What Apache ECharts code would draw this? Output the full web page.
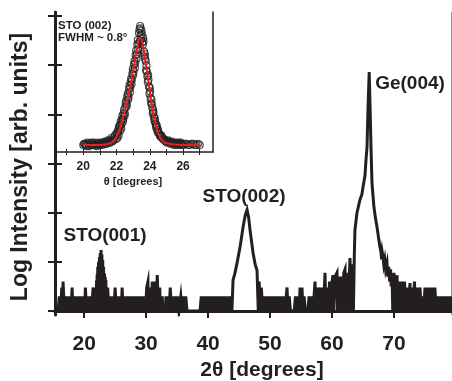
<!DOCTYPE html>
<html>
  <head>
    <title>xrd scan</title>
    <meta http-equiv="Content-Type" content="text/html; charset=utf-8" />
    <style type="text/css">
    	body{margin:0;background:#fff;}
    	#chart1{width:452px;height:381px;}
    </style>
	<script type="text/javascript" src="https://cdn.jsdelivr.net/npm/echarts@6.0.0/dist/echarts.min.js"></script>
  </head>
  <body>
	<div id="chart1"></div>
  </body>
  <script type="text/javascript">
	// main scan, [2theta, log10(counts)]
	var scanA = [[15.8,0],[16.0,0.3],[16.2,0],[16.4,0.48],[16.5,0],[16.6,0.6],[16.8,0],[17.0,0.3],[17.2,0],[17.4,0.3],[17.6,0],[17.8,0.3],[17.9,0],[18.06,0.48],[18.2,0],[18.4,0.3],[18.6,0],[18.8,0.3],[19.0,0],[19.2,0.3],[19.4,0],[19.6,0.3],[19.8,0],[20.0,0.3],[20.1,0],[20.2,0.48],[20.4,0],[20.6,0.3],[20.8,0],[21.0,0.3],[21.2,0],[21.45,0.48],[21.6,0],[21.8,0.48],[21.88,0.49],[21.9,0],[22.0,0.62],[22.02,0],[22.1,0.75],[22.12,0],[22.2,0.9],[22.22,0],[22.33,1.0],[22.35,0],[22.47,1.1],[22.49,0],[22.6,1.18],[22.62,0],[22.74,1.24],[22.76,0],[22.87,1.15],[22.89,0],[23.0,1.04],[23.02,0],[23.14,0.9],[23.16,0],[23.28,0.77],[23.3,0],[23.4,0.7],[23.42,0],[23.5,0.63],[23.65,0],[23.8,0.48],[24.0,0],[24.2,0.3],[24.4,0],[24.6,0.3],[24.8,0],[25.0,0.48],[25.2,0],[25.4,0.3],[25.6,0],[25.8,0.3],[26.0,0],[26.13,0.48],[26.3,0],[26.5,0.3],[26.7,0],[26.9,0.3],[27.1,0],[27.3,0.3],[27.5,0],[27.7,0.3],[27.9,0],[28.1,0.3],[28.3,0],[28.5,0.3],[28.7,0],[28.9,0.3],[29.1,0],[29.3,0.3],[29.5,0],[29.7,0.3],[29.9,0],[30.1,0.48],[30.3,0.6],[30.4,0],[30.6,0.48],[30.8,0],[31.0,0.6],[31.2,0],[31.45,0.6],[31.6,0],[31.8,0.73],[32.0,0],[32.2,0.48],[32.3,0],[32.5,0],[32.6,0.3],[32.7,0],[33.1,0],[33.2,0.3],[33.3,0],[33.5,0.3],[33.7,0],[33.9,0.48],[34.1,0],[34.3,0.3],[34.5,0],[34.7,0.3],[34.9,0],[35.1,0.3],[35.3,0],[35.5,0],[35.6,0.3],[35.8,0],[36.0,0.3],[36.2,0],[36.4,0.3],[36.6,0],[38.7,0],[38.9,0.3],[39.1,0],[39.3,0.3],[39.5,0],[39.7,0.3],[39.9,0],[40.1,0.3],[40.3,0],[40.5,0.3],[40.7,0],[40.9,0.3],[41.1,0],[41.3,0.3],[41.5,0],[41.7,0.3],[41.9,0],[42.1,0.3],[42.3,0],[42.5,0.3],[42.7,0],[42.9,0.3],[43.1,0],[43.3,0.3],[43.5,0],[43.7,0.3],[43.85,0]];
	var sto002 = [[44.03,0.63],[44.3,0.75],[44.68,0.98],[45.16,1.3],[45.65,1.71],[46.0,1.95],[46.29,2.06],[46.55,1.9],[46.77,1.65],[47.26,1.18],[47.6,0.95],[47.9,0.83],[48.1,0],[48.25,0.6],[48.4,0],[48.6,0.48],[48.8,0],[49.0,0.3],[49.2,0]];
	var scanB = [[49.4,0.3],[49.6,0],[49.8,0.3],[50.0,0],[50.2,0.3],[50.4,0],[50.6,0.3],[50.8,0],[51.0,0.3],[51.2,0],[51.4,0.3],[51.6,0],[51.8,0.3],[52.0,0],[52.2,0.3],[52.4,0],[52.74,0.48],[52.9,0],[53.1,0.3],[53.3,0],[53.9,0],[54.1,0.3],[54.3,0],[54.5,0.3],[54.7,0],[54.84,0.48],[55.0,0],[55.16,0.48],[55.3,0],[55.5,0.3],[55.7,0],[56.1,0],[56.3,0.3],[56.5,0],[56.7,0.3],[56.9,0],[57.1,0.3],[57.26,0.6],[57.4,0],[57.6,0.48],[57.8,0],[58.06,0.48],[58.2,0],[58.4,0.48],[58.6,0],[58.87,0.78],[59.0,0],[59.2,0.48],[59.4,0],[59.6,0.6],[59.8,0],[60.0,0.6],[60.16,0.73],[60.3,0],[60.5,0.7],[60.8,0.78],[60.9,0],[61.1,0.7],[61.3,0],[61.5,0.7],[61.7,0],[61.9,0.78],[62.1,0.85],[62.2,0],[62.4,0.78],[62.6,0],[62.9,1.08],[63.1,0],[63.3,0.95],[63.45,0]];
	var ge004 = [[63.6,1.15],[63.7,1.65],[64.03,2.0],[64.5,2.26],[64.84,2.38],[65.0,2.52],[65.32,2.75],[65.48,3.07],[65.65,3.33],[65.8,4.08],[66.0,4.86],[66.15,4.1],[66.29,3.33],[66.45,2.6],[66.77,2.11],[67.0,1.9],[67.26,1.71],[67.5,1.5],[67.74,1.3],[67.9,1.2],[68.0,1.05],[68.1,1.2],[68.23,1.1],[68.35,0.95],[68.5,1.05],[68.65,0.85],[68.87,0.98],[69.0,0.7],[69.15,0.9],[69.3,0.6],[69.45,0.85],[69.55,0.5],[69.68,0.77]];
	var scanC = [[69.8,0],[70.0,0.78],[70.2,0],[70.5,0.73],[70.6,0],[70.8,0.6],[70.97,0.63],[71.1,0],[71.3,0.6],[71.5,0],[71.7,0.6],[71.9,0],[72.1,0.48],[72.3,0],[72.58,0.57],[72.7,0],[72.9,0.48],[73.1,0],[73.3,0.6],[73.5,0],[73.7,0.48],[73.9,0],[74.2,0.48],[74.4,0],[74.6,0.3],[74.8,0],[75.0,0.48],[75.2,0],[75.4,0.48],[75.6,0],[75.8,0.48],[76.0,0],[76.2,0.48],[76.4,0],[76.6,0.48],[76.8,0],[77.0,0.3],[77.2,0],[77.4,0.3],[77.6,0],[77.8,0.3],[78.0,0],[78.2,0.3],[78.4,0],[78.6,0.3],[78.8,0],[79.0,0.3],[79.2,0],[79.4,0.3]];
	var xTicks = [20,30,40,50,60,70];
	var yTicks = [0,1,2,3,4,5,6];

	// inset: rocking curve of STO(002), [theta, normalized intensity]
	var insetPts = [[20.0,0.06],[20.1,0.07],[20.2,0.05],[20.3,0.07],[20.4,0.06],[20.5,0.08],[20.6,0.06],[20.7,0.07],[20.8,0.05],[20.9,0.08],[21.0,0.06],[21.1,0.08],[21.2,0.07],[21.3,0.09],[21.4,0.07],[21.5,0.1],[21.6,0.08],[21.7,0.12],[21.8,0.1],[21.9,0.14],[22.0,0.16],[22.05,0.12],[22.1,0.19],[22.15,0.22],[22.2,0.18],[22.25,0.26],[22.3,0.24],[22.35,0.31],[22.4,0.28],[22.45,0.36],[22.5,0.33],[22.55,0.42],[22.6,0.39],[22.65,0.48],[22.7,0.45],[22.75,0.54],[22.8,0.51],[22.85,0.6],[22.9,0.58],[22.95,0.67],[23.0,0.66],[23.05,0.75],[23.1,0.72],[23.15,0.83],[23.2,0.8],[23.25,0.92],[23.3,0.88],[23.35,1.02],[23.4,0.95],[23.42,1.08],[23.45,1.0],[23.5,1.04],[23.55,0.94],[23.6,0.98],[23.65,0.86],[23.7,0.84],[23.75,0.78],[23.8,0.74],[23.85,0.65],[23.9,0.66],[23.95,0.56],[24.0,0.55],[24.05,0.46],[24.1,0.45],[24.15,0.38],[24.2,0.36],[24.25,0.3],[24.3,0.29],[24.35,0.24],[24.4,0.23],[24.45,0.19],[24.5,0.19],[24.6,0.15],[24.65,0.13],[24.7,0.14],[24.8,0.11],[24.9,0.1],[25.0,0.09],[25.1,0.1],[25.2,0.08],[25.3,0.09],[25.4,0.07],[25.5,0.08],[25.6,0.07],[25.7,0.08],[25.8,0.06],[25.9,0.07],[26.0,0.06],[26.2,0.07],[26.4,0.06],[26.6,0.07],[26.8,0.06],[27.0,0.06]];
	var insetPts2 = [[20.05,0.07],[20.15,0.06],[20.25,0.08],[20.35,0.05],[20.45,0.07],[20.55,0.06],[20.65,0.08],[20.75,0.06],[20.85,0.07],[20.95,0.06],[21.05,0.07],[21.15,0.06],[21.25,0.08],[21.35,0.07],[21.45,0.09],[21.55,0.08],[21.65,0.1],[21.75,0.09],[21.85,0.12],[21.95,0.11],[22.02,0.15],[22.08,0.17],[22.12,0.14],[22.18,0.21],[22.22,0.23],[22.28,0.2],[22.32,0.28],[22.38,0.26],[22.42,0.33],[22.48,0.31],[22.52,0.38],[22.58,0.44],[22.62,0.41],[22.68,0.5],[22.72,0.47],[22.78,0.57],[22.82,0.55],[22.88,0.63],[22.92,0.62],[22.98,0.71],[23.02,0.69],[23.08,0.78],[23.12,0.76],[23.18,0.87],[23.22,0.84],[23.28,0.96],[23.32,0.93],[23.38,1.05],[23.44,1.06],[23.48,0.97],[23.52,1.01],[23.58,0.92],[23.62,0.95],[23.68,0.82],[23.72,0.8],[23.78,0.7],[23.82,0.69],[23.88,0.6],[23.92,0.62],[23.98,0.5],[24.02,0.52],[24.08,0.42],[24.12,0.41],[24.18,0.33],[24.22,0.34],[24.28,0.27],[24.32,0.26],[24.38,0.21],[24.42,0.22],[24.48,0.17],[24.55,0.16],[24.62,0.14],[24.75,0.12],[24.85,0.11],[24.95,0.09],[25.05,0.08],[25.15,0.09],[25.25,0.07],[25.35,0.08],[25.45,0.06],[25.55,0.07],[25.65,0.06],[25.75,0.07],[25.85,0.08],[25.95,0.06],[26.1,0.07],[26.3,0.06],[26.5,0.07],[26.7,0.06],[26.9,0.07]];
	var insetFit = [[20.0,0.06],[21.0,0.06],[21.5,0.07],[21.8,0.09],[22.0,0.13],[22.2,0.2],[22.4,0.3],[22.6,0.42],[22.8,0.55],[23.0,0.7],[23.2,0.86],[23.3,0.93],[23.4,0.98],[23.5,0.96],[23.6,0.9],[23.8,0.72],[24.0,0.52],[24.2,0.34],[24.4,0.21],[24.6,0.13],[24.8,0.09],[25.0,0.075],[25.5,0.065],[26.0,0.06],[27.0,0.06]];
	var insetTicks = [19,20,21,22,23,24,25,26,27];
	var insetLabels = [20,22,24,26];

	var ink = '#231f20';
	var font = 'Liberation Sans, Arial, Helvetica, sans-serif';
	var myChart = echarts.init(document.getElementById('chart1'), null, {renderer: 'canvas'});

	function txt(s, x, y, size, rot){
		return {
			type: 'text', x: x, y: y, rotation: rot || 0, silent: true,
			style: {text: s, fill: ink, font: 'bold ' + size + 'px ' + font, textAlign: 'center', textVerticalAlign: 'middle'}
		};
	}
	function txtL(s, x, y, size){
		return {
			type: 'text', x: x, y: y, silent: true,
			style: {text: s, fill: ink, font: 'bold ' + size + 'px ' + font, textAlign: 'left', textVerticalAlign: 'middle'}
		};
	}

	myChart.setOption({
		animation: false,
		backgroundColor: '#fff',
		grid: [
			{left: 55, right: 1, top: 12, bottom: 66, containLabel: false, outerBoundsMode: 'none'},
			{left: 55, top: 12, width: 158, height: 140, containLabel: false, outerBoundsMode: 'none'}
		],
		xAxis: [
			{gridIndex: 0, type: 'value', position: 'bottom', min: 15.3, max: 79.2,
				axisLine: {lineStyle: {color: ink, width: 3}},
				axisTick: {customValues: xTicks, length: 7, lineStyle: {color: ink, width: 2}},
				axisLabel: {customValues: xTicks, margin: 19, color: ink, fontSize: 21, fontWeight: 'bold', fontFamily: font},
				splitLine: {show: false}},
			{gridIndex: 0, type: 'value', position: 'top', min: 15.3, max: 79.2,
				axisLine: {lineStyle: {color: ink, width: 3}},
				axisTick: {show: false}, axisLabel: {show: false}, splitLine: {show: false}},
			{gridIndex: 1, type: 'value', position: 'bottom', min: 18.3, max: 27.8,
				axisLine: {lineStyle: {color: ink, width: 1.5}},
				axisTick: {customValues: insetTicks, length: 3, lineStyle: {color: ink, width: 1}},
				axisLabel: {customValues: insetLabels, margin: 9, color: ink, fontSize: 12, fontWeight: 'bold', fontFamily: font},
				splitLine: {show: false}},
			{gridIndex: 1, type: 'value', position: 'bottom', min: 18.3, max: 27.8,
				axisLine: {show: false},
				axisTick: {customValues: insetTicks, inside: true, length: 3, lineStyle: {color: ink, width: 1}},
				axisLabel: {show: false}, splitLine: {show: false}}
		],
		yAxis: [
			{gridIndex: 0, type: 'value', position: 'left', min: -0.08, max: 6.08,
				axisLine: {lineStyle: {color: ink, width: 3}},
				axisTick: {customValues: yTicks, length: 7, lineStyle: {color: ink, width: 2}},
				axisLabel: {show: false}, splitLine: {show: false}},
			{gridIndex: 0, type: 'value', position: 'left', min: -0.08, max: 6.08,
				axisLine: {show: false},
				axisTick: {customValues: yTicks, inside: true, length: 7, lineStyle: {color: ink, width: 2}},
				axisLabel: {show: false}, splitLine: {show: false}},
			{gridIndex: 0, type: 'value', position: 'right', min: -0.08, max: 6.08,
				axisLine: {lineStyle: {color: '#999', width: 1}},
				axisTick: {show: false}, axisLabel: {show: false}, splitLine: {show: false}},
			{gridIndex: 1, type: 'value', position: 'left', min: 0, max: 1.2,
				axisLine: {show: false}, axisTick: {show: false}, axisLabel: {show: false}, splitLine: {show: false}},
			{gridIndex: 1, type: 'value', position: 'right', min: 0, max: 1.2,
				axisLine: {lineStyle: {color: ink, width: 1.5}},
				axisTick: {show: false}, axisLabel: {show: false}, splitLine: {show: false}}
		],
		series: [
			{name: 'scan', type: 'line', xAxisIndex: 0, yAxisIndex: 0, symbol: 'none',
				data: scanA.concat(sto002, scanB, ge004, scanC),
				lineStyle: {color: ink, width: 3, join: 'miter'}},
			{name: 'rocking', type: 'scatter', xAxisIndex: 2, yAxisIndex: 3, symbol: 'circle', symbolSize: 7,
				data: insetPts.concat(insetPts2),
				itemStyle: {color: 'rgba(0,0,0,0)', borderColor: ink, borderWidth: 1.2}},
			{name: 'fit', type: 'line', xAxisIndex: 2, yAxisIndex: 3, symbol: 'none', smooth: true,
				data: insetFit, z: 5,
				lineStyle: {color: '#e3211c', width: 2}}
		],
		graphic: [
			txt('Log Intensity [arb. units]', 21, 167, 23, Math.PI / 2),
			txt('2θ [degrees]', 262, 370, 21),
			txt('STO(001)', 105, 236, 19),
			txt('STO(002)', 244, 197, 19),
			txt('Ge(004)', 410, 84, 19),
			txt('θ [degrees]', 133, 182, 11),
			txtL('STO (002)', 58, 26, 11.5),
			txtL('FWHM ~ 0.8°', 58, 38, 11.5)
		]
	});
	</script>
</html>
